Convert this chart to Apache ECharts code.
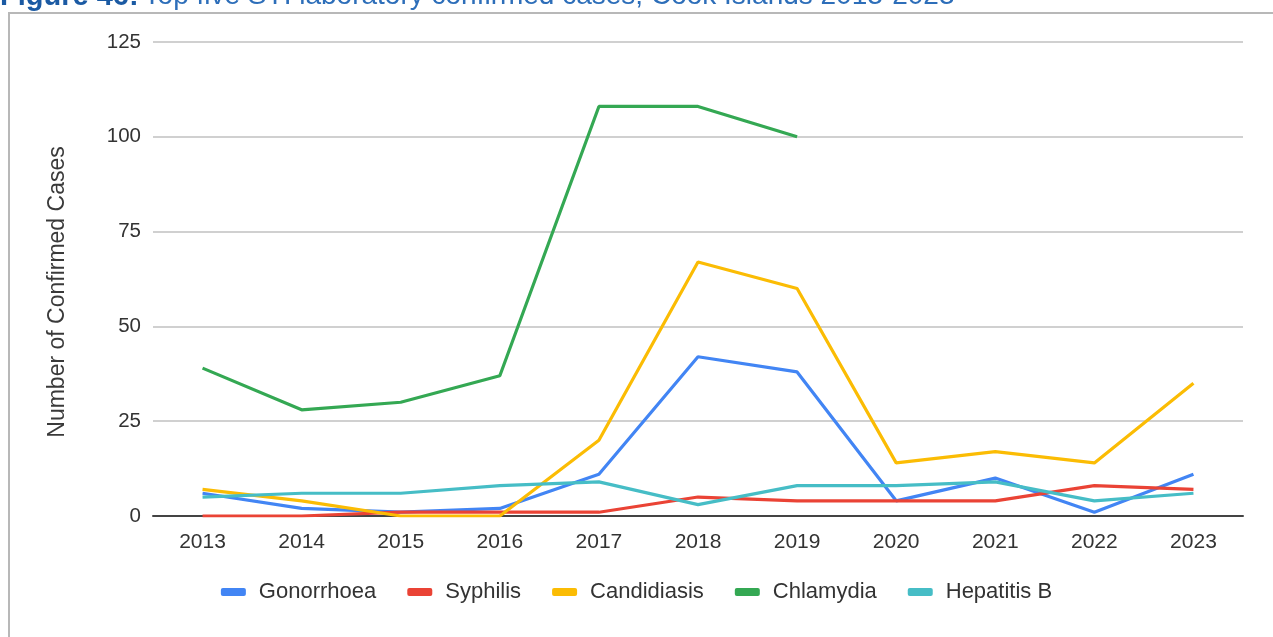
<!DOCTYPE html>
<html>
<head>
<meta charset="utf-8">
<script src="https://cdn.jsdelivr.net/npm/echarts@6/dist/echarts.min.js"></script>
<style>
html,body{margin:0;padding:0;background:#fff;}
#chart{width:1273px;height:637px;}
</style>
</head>
<body>
<div id="chart"></div>
<script>
const years = ['2013','2014','2015','2016','2017','2018','2019','2020','2021','2022','2023'];
const gonorrhoea = [6, 2, 1, 2, 11, 42, 38, 4, 10, 1, 11];
const syphilis   = [0, 0, 1, 1, 1, 5, 4, 4, 4, 8, 7];
const candidiasis= [7, 4, 0, 0, 20, 67, 60, 14, 17, 14, 35];
const chlamydia  = [39, 28, 30, 37, 108, 108, 100, null, null, null, null];
const hepatitisB = [5, 6, 6, 8, 9, 3, 8, 8, 9, 4, 6];
const yTicks = [0, 25, 50, 75, 100, 125];

const font = 'Arial, "Liberation Sans", sans-serif';
const chart = echarts.init(document.getElementById('chart'), null, {renderer: 'canvas'});

function line(name, data, color) {
  return {
    name: name, type: 'line', data: data, showSymbol: false, symbol: 'none',
    lineStyle: {width: 3.2, color: color}, itemStyle: {color: color},
    connectNulls: false, z: 3
  };
}

chart.setOption({
  animation: false,
  backgroundColor: '#ffffff',
  title: {
    text: '{b|Figure 46:} {r|Top five STI laboratory confirmed cases, Cook Islands 2013-2023}',
    left: 0, top: -18, padding: 0,
    textStyle: {
      fontWeight: 'normal',
      rich: {
        b: {fontFamily: font, fontSize: 29, fontWeight: 'bold', color: '#1b5aa3'},
        r: {fontFamily: font, fontSize: 28, fontWeight: 'normal', color: '#2d6eb9'}
      }
    }
  },
  graphic: [
    {type: 'rect', shape: {x: 9, y: 13, width: 1300, height: 700}, style: {fill: 'none', stroke: '#b8b8b8', lineWidth: 2}, silent: true, z: -10},
    {type: 'text', x: 58, y: 292, rotation: Math.PI / 2,
     style: {text: 'Number of Confirmed Cases', fontFamily: font, fontSize: 23, fill: '#3a3a3a', align: 'center', verticalAlign: 'middle'}}
  ],
  grid: {left: 153, right: 30, top: 42, bottom: 121, containLabel: false},
  legend: {
    bottom: 29, left: 'center',
    itemWidth: 25, itemHeight: 8, itemGap: 31,
    icon: 'roundRect',
    textStyle: {fontFamily: font, fontSize: 22, color: '#333', padding: [0, 0, 0, 8]},
    data: ['Gonorrhoea', 'Syphilis', 'Candidiasis', 'Chlamydia', 'Hepatitis B']
  },
  xAxis: {
    type: 'category', data: years, boundaryGap: true,
    axisLine: {show: true, lineStyle: {color: '#444', width: 2}},
    axisTick: {show: false},
    axisLabel: {fontFamily: font, fontSize: 21, color: '#333', margin: 16}
  },
  yAxis: {
    type: 'value', min: 0, max: 125, interval: 25,
    axisLine: {show: false}, axisTick: {show: false},
    axisLabel: {fontFamily: font, fontSize: 20.5, color: '#333', margin: 12,
      formatter: function (v) { return yTicks.indexOf(v) >= 0 ? String(v) : ''; }},
    splitLine: {lineStyle: {color: '#d0d0d0', width: 2}}
  },
  series: [
    line('Gonorrhoea', gonorrhoea, '#4285F4'),
    line('Syphilis', syphilis, '#EA4335'),
    line('Candidiasis', candidiasis, '#FBBC04'),
    line('Chlamydia', chlamydia, '#34A853'),
    line('Hepatitis B', hepatitisB, '#46BDC6')
  ]
});
</script>
</body>
</html>
